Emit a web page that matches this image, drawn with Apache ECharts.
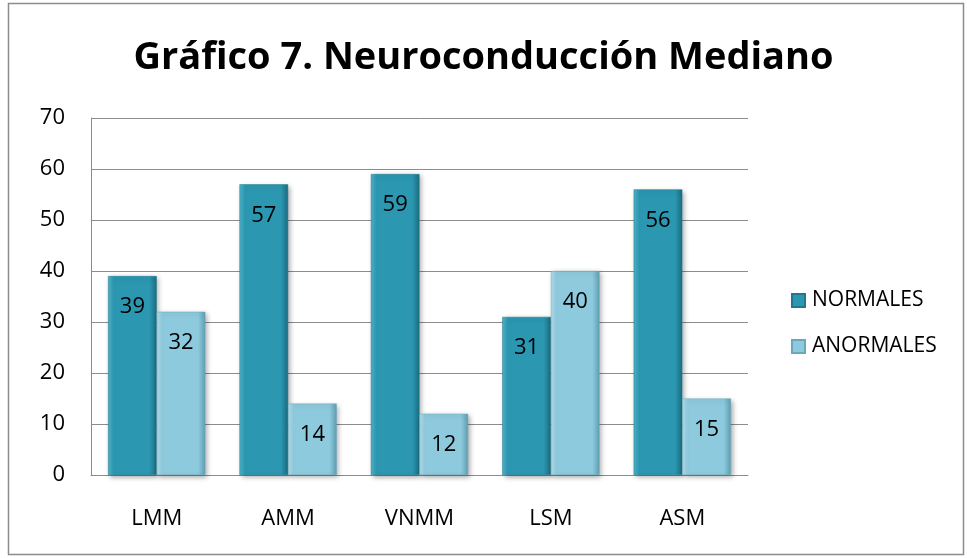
<!DOCTYPE html>
<html>
<head>
<meta charset="utf-8">
<script src="https://cdn.jsdelivr.net/npm/echarts@6/dist/echarts.min.js"></script>
<style>
  html, body { margin: 0; padding: 0; background: #fff; }
  #chart { width: 967px; height: 558px; }
</style>
</head>
<body>
<div id="chart"></div>
<script>
// Median nerve conduction study results
const categories = ['LMM', 'AMM', 'VNMM', 'LSM', 'ASM'];
const normales = [39, 57, 59, 31, 56];
const anormales = [32, 14, 12, 40, 15];
const yTicks = { min: 0, max: 70, interval: 10 };

const FONT = '"Open Sans", Lato, sans-serif';

function barGradient(edgeL, mid, edgeR) {
  return new echarts.graphic.LinearGradient(0, 0, 1, 0, [
    { offset: 0, color: edgeL },
    { offset: 0.12, color: mid },
    { offset: 0.85, color: mid },
    { offset: 1, color: edgeR }
  ]);
}

const chart = echarts.init(document.getElementById('chart'));
chart.setOption({
  backgroundColor: '#ffffff',
  animation: false,
  title: {
    text: 'Gráfico 7. Neuroconducción Mediano',
    left: 'center',
    top: 34,
    textStyle: { fontFamily: FONT, fontWeight: 'bold', fontSize: 38, color: '#000' }
  },
  graphic: [{
    type: 'rect',
    shape: { x: 8.5, y: 3.5, width: 955, height: 551 },
    style: { fill: 'none', stroke: '#8c8c8c', lineWidth: 1.5 },
    silent: true
  }],
  legend: {
    orient: 'vertical',
    left: 786,
    top: 285,
    itemWidth: 13,
    itemHeight: 13,
    itemGap: 25,
    icon: 'rect',
    textStyle: { fontFamily: FONT, fontSize: 21, color: '#000', padding: [0, 0, 0, 2] },
    data: ['NORMALES', 'ANORMALES']
  },
  grid: { left: 91, right: 219, top: 118, bottom: 83 },
  xAxis: {
    type: 'category',
    data: categories,
    axisLine: { lineStyle: { color: '#8c8c8c', width: 1 } },
    axisTick: { show: false },
    axisLabel: { fontFamily: FONT, fontSize: 22, color: '#000', margin: 33 }
  },
  yAxis: {
    type: 'value',
    min: yTicks.min,
    max: yTicks.max,
    interval: yTicks.interval,
    axisLine: { show: true, lineStyle: { color: '#8c8c8c', width: 1 } },
    axisTick: { show: false },
    splitLine: { lineStyle: { color: '#8c8c8c', width: 1 } },
    axisLabel: { fontFamily: FONT, fontSize: 22, color: '#000', margin: 26 }
  },
  series: [
    {
      name: 'NORMALES',
      type: 'bar',
      data: normales,
      barGap: '0%',
      barCategoryGap: '26%',
      itemStyle: {
        color: barGradient('#4fb6cc', '#2b97b1', '#1b6d82'),
        borderColor: '#1f7890',
        borderWidth: 0.5,
        shadowColor: 'rgba(0,0,0,0.35)',
        shadowBlur: 5,
        shadowOffsetX: 2,
        shadowOffsetY: 2
      },
      label: {
        show: true,
        position: 'insideTop',
        distance: 20,
        fontFamily: FONT,
        fontSize: 22,
        color: '#000'
      }
    },
    {
      name: 'ANORMALES',
      type: 'bar',
      data: anormales,
      itemStyle: {
        color: barGradient('#b3deeb', '#8ecadd', '#5f9fb3'),
        borderColor: '#6aa9bd',
        borderWidth: 0.5,
        shadowColor: 'rgba(0,0,0,0.35)',
        shadowBlur: 5,
        shadowOffsetX: 2,
        shadowOffsetY: 2
      },
      label: {
        show: true,
        position: 'insideTop',
        distance: 20,
        fontFamily: FONT,
        fontSize: 22,
        color: '#000'
      }
    }
  ]
});
</script>
</body>
</html>
